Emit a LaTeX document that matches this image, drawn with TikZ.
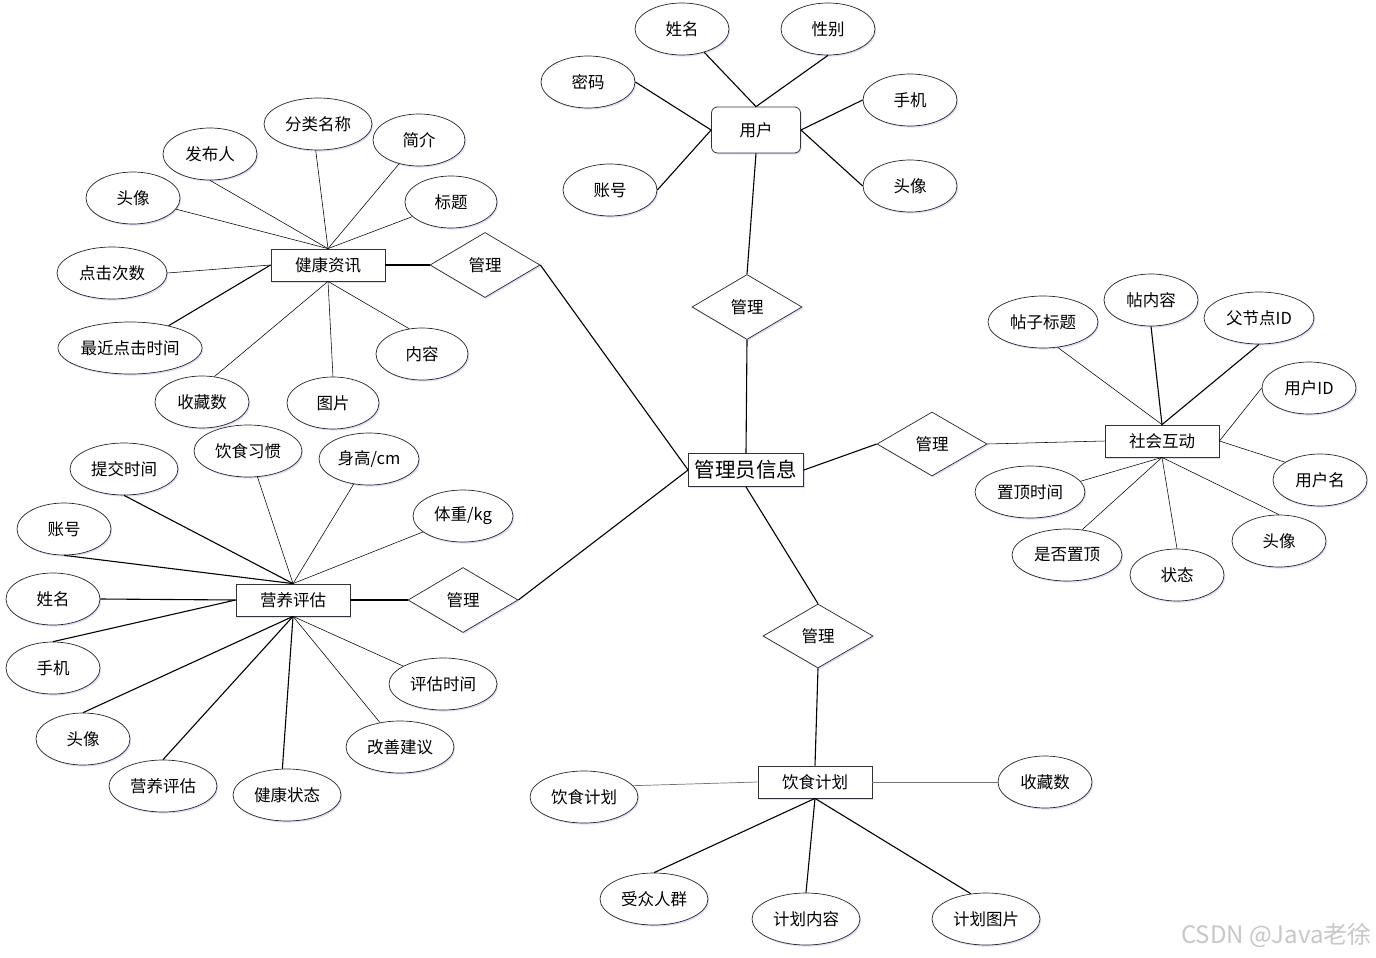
\documentclass[tikz,border=0pt]{standalone}
\usepackage{fontspec}
\setmainfont{Noto Sans CJK SC}
\usetikzlibrary{shapes.geometric,shadows}
\begin{document}
\begin{tikzpicture}[x=1pt,y=-1pt,font=\fontsize{16.5}{19}\selectfont,
  shad/.style={drop shadow={shadow xshift=1.2pt,shadow yshift=-1.6pt,fill=blue!30,opacity=0.45}},
  attr/.style={ellipse,draw=black!85,line width=0.7pt,fill=white,minimum width=94,minimum height=52,inner sep=0pt,shad},
  wattr/.style={attr,minimum width=108},
  ent/.style={rectangle,draw=black!80,line width=0.8pt,fill=white,minimum width=114,minimum height=32,inner sep=0pt,shad},
  rel/.style={diamond,draw=black!85,line width=0.7pt,fill=white,minimum width=110,minimum height=65,inner sep=0pt,shad},
  thin/.style={line width=0.55pt},
  thk/.style={line width=1.1pt},
  grayl/.style={line width=1pt,draw=black!55}]
\useasboundingbox (0,0) rectangle (1376,958);
\fill[white] (0,0) rectangle (1376,958);

% ---------- central ----------
\node[ent,minimum width=115,minimum height=33,font=\fontsize{20.5}{23}\selectfont] (admin) at (746,470) {管理员信息};
\node[rel] (r1) at (747,307) {管理};
\node[rel] (r2) at (485,265) {管理};
\node[rel] (r3) at (463,600) {管理};
\node[rel,minimum height=64] (r4) at (932,444) {管理};
\node[rel,minimum height=64] (r5) at (818,636) {管理};

% ---------- user ----------
\node[ent,rounded corners=6pt,minimum width=89,minimum height=46] (user) at (756,130) {用户};
\node[attr] (u1) at (682,29) {姓名};
\node[attr] (u2) at (828,29) {性别};
\node[attr] (u3) at (588,82) {密码};
\node[attr] (u4) at (910,100) {手机};
\node[attr] (u5) at (610,190) {账号};
\node[attr] (u6) at (910,186) {头像};

% ---------- health info ----------
\node[ent] (hi) at (328,265) {健康资讯};
\node[attr,minimum width=108] (h1) at (318,124) {分类名称};
\node[attr,minimum width=92] (h2) at (419,140) {简介};
\node[attr] (h3) at (210,154) {发布人};
\node[attr] (h4) at (133,198) {头像};
\node[attr,minimum width=92] (h5) at (451,202) {标题};
\node[attr,minimum width=110] (h6) at (112,273) {点击次数};
\node[attr,minimum width=144] (h7) at (130,348) {最近点击时间};
\node[attr,minimum width=92] (h8) at (422,354) {内容};
\node[attr] (h9) at (202,402) {收藏数};
\node[attr,minimum width=92] (h10) at (333,403) {图片};

% ---------- nutrition assessment ----------
\node[ent] (na) at (293,600) {营养评估};
\node[wattr] (n1) at (124,469) {提交时间};
\node[wattr] (n2) at (248,451) {饮食习惯};
\node[attr,minimum width=100] (n3) at (369,459) {身高/cm};
\node[attr,minimum width=100] (n4) at (463,516) {体重/kg};
\node[attr] (n5) at (64,529) {账号};
\node[attr] (n6) at (53,599) {姓名};
\node[attr] (n7) at (53,668) {手机};
\node[attr] (n8) at (83,739) {头像};
\node[wattr] (n9) at (163,786) {营养评估};
\node[wattr] (n10) at (287,795) {健康状态};
\node[wattr] (n11) at (400,747) {改善建议};
\node[wattr] (n12) at (443,684) {评估时间};

% ---------- social ----------
\node[ent] (so) at (1162,441) {社会互动};
\node[attr,minimum width=110] (s1) at (1043,322) {帖子标题};
\node[attr] (s2) at (1151,300) {帖内容};
\node[attr,minimum width=110] (s3) at (1259,318) {父节点ID};
\node[attr] (s4) at (1309,388) {用户ID};
\node[attr] (s5) at (1320,480) {用户名};
\node[attr] (s6) at (1279,541) {头像};
\node[attr] (s7) at (1177,575) {状态};
\node[attr,minimum width=110] (s8) at (1067,555) {是否置顶};
\node[attr,minimum width=110] (s9) at (1030,492) {置顶时间};

% ---------- diet plan ----------
\node[ent] (dp) at (815,782) {饮食计划};
\node[wattr] (d1) at (584,797) {饮食计划};
\node[attr] (d2) at (1045,782) {收藏数};
\node[wattr] (d3) at (654,899) {受众人群};
\node[wattr] (d4) at (806,919) {计划内容};
\node[wattr] (d5) at (986,919) {计划图片};

% ---------- connectors ----------
\draw[thk] (user.south) -- (r1.north);
\draw[thk] (r1.south) -- (admin.north);
\draw[thk] (admin.east) -- (r4.west);
\draw[thk] (admin.west) -- (r2.east);
\draw[thk] (admin.west) -- (r3.east);
\draw[thk] (admin.south) -- (r5.north);
\draw[thk] (r5.south) -- (dp.north);
\draw[thk] (hi.east) -- (r2.west);
\draw[thk] (na.east) -- (r3.west);
\draw[thin] (r4.east) -- (so.west);

\draw[thk] (u1) -- (user.north);
\draw[thk] (u2.south) -- (user.north);
\draw[thk] (u3.east) -- (user.west);
\draw[thk] (u5.east) -- (user.west);
\draw[thk] (u4.west) -- (user.east);
\draw[thk] (u6.west) -- (user.east);

\draw[thin] (h1.265) -- (hi.north);
\draw[thin] (h2) -- (hi.north);
\draw[thin] (h3.south) -- (hi.north);
\draw[thin] (h4) -- (hi.north);
\draw[thin] (h5) -- (hi.north);
\draw[thin] (h6.east) -- (hi.west);
\draw[thk] (h7.30) -- (hi.west);
\draw[thin] (h8.117) -- (hi.south);
\draw[thin] (h9.64) -- (hi.south);
\draw[thin] (h10.north) -- (hi.south);

\draw[thk] (n1.south) -- (na.north);
\draw[thin] (n2.290) -- (na.north);
\draw[thin] (n3) -- (na.north);
\draw[thin] (n4) -- (na.north);
\draw[thk] (n5.south) -- (na.north);
\draw[thk] (n6.east) -- (na.west);
\draw[thk] (n7.north) -- (na.west);
\draw[thk] (n8.north) -- (na.south);
\draw[thk] (n9.north) -- (na.south);
\draw[thk] (n10.100) -- (na.south);
\draw[thin] (n11) -- (na.south);
\draw[thin] (n12) -- (na.south);

\draw[thin] (s1.-60) -- (so.north);
\draw[thk] (s2.south) -- (so.north);
\draw[thk] (s3.south) -- (so.north);
\draw[thin] (s4.west) -- (so.east);
\draw[thin] (s5.153) -- (so.east);
\draw[thin] (s6.north) -- (so.south);
\draw[thin] (s7.north) -- (so.south);
\draw[thin] (s8.59) -- (so.south);
\draw[thin] (s9.12) -- (so.south);

\draw[grayl,line width=0.7pt] (d1.13) -- (dp.west);
\draw[grayl] (d2.west) -- (dp.east);
\draw[thk] (d3.north) -- (dp.south);
\draw[thk] (d4.north) -- (dp.south);
\draw[thk] (d5.121) -- (dp.south);

% ---------- watermark ----------
\node[anchor=east,font=\fontsize{24}{26}\selectfont,text=black!22,inner sep=0pt] (wm) at (1372,935) {CSDN @Java老徐};
\end{tikzpicture}
\end{document}
